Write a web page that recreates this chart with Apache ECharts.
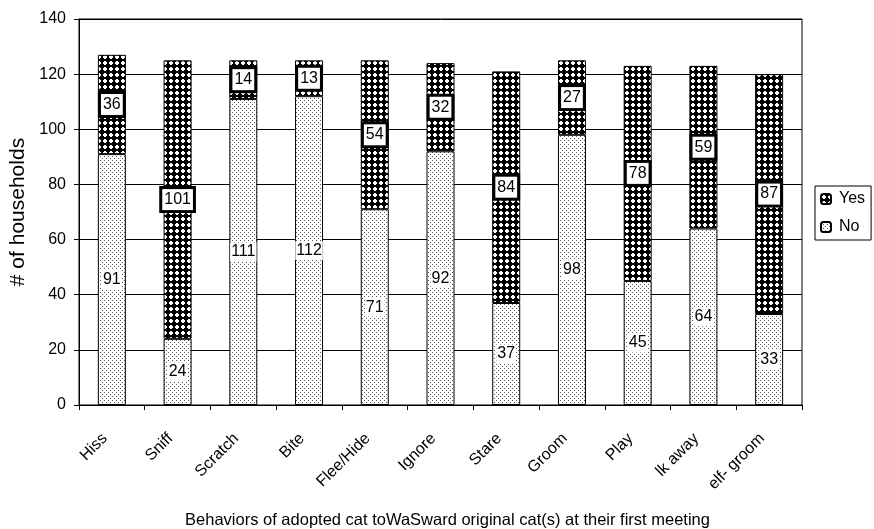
<!DOCTYPE html>
<html>
<head>
<meta charset="utf-8">
<script src="https://cdn.jsdelivr.net/npm/echarts@6/dist/echarts.min.js"></script>
<style>
  html, body { margin: 0; padding: 0; background: #fff; }
  #chart { width: 874px; height: 529px; }
</style>
</head>
<body>
<div id="chart"></div>
<script>
// Behaviours at first meeting, split by household answer
const categories = ['Hiss', 'Sniff', 'Scratch', 'Bite', 'Flee/Hide', 'Ignore', 'Stare', 'Groom', 'Play', 'lk away', 'elf- groom'];
const noValues  = [91, 24, 111, 112, 71, 92, 37, 98, 45, 64, 33];
const yesValues = [36, 101, 14, 13, 54, 32, 84, 27, 78, 59, 87];
const yTicks = { min: 0, max: 140, interval: 20 };

const FONT = '"Liberation Sans", Arial, Helvetica, sans-serif';

// Light stipple fill: sparse black dots on white
function stipple() {
  const c = document.createElement('canvas');
  c.width = 4; c.height = 4;
  const g = c.getContext('2d');
  g.fillStyle = '#fff'; g.fillRect(0, 0, 4, 4);
  g.fillStyle = '#555';
  g.fillRect(0, 0, 1, 1);
  g.fillRect(2, 2, 1, 1);
  return c;
}

// Dark fill: black ground with white diamond dots
function diamonds() {
  const c = document.createElement('canvas');
  c.width = 6; c.height = 6;
  const g = c.getContext('2d');
  g.fillStyle = '#000'; g.fillRect(0, 0, 6, 6);
  g.fillStyle = '#fff';
  g.fillRect(2, 1, 2, 4);
  g.fillRect(1, 2, 4, 2);
  return c;
}

const chart = echarts.init(document.getElementById('chart'), null, { renderer: 'canvas' });

chart.setOption({
  animation: false,
  backgroundColor: '#fff',
  textStyle: { fontFamily: FONT, color: '#000' },
  grid: {
    left: 79, right: 72, top: 19, bottom: 124,
    outerBoundsMode: 'none',
    containLabel: false,
    show: true, borderColor: '#000', borderWidth: 1
  },
  legend: {
    orient: 'vertical',
    left: 815, top: 186,
    data: ['Yes', 'No'],
    itemWidth: 10, itemHeight: 10, itemGap: 12,
    borderColor: '#000', borderWidth: 1,
    padding: [5, 6, 5, 5],
    textStyle: { fontFamily: FONT, fontSize: 16, color: '#000', padding: [0, 0, 0, 3] }
  },
  xAxis: {
    type: 'category',
    data: categories,
    boundaryGap: true,
    name: 'Behaviors of adopted cat toWaSward original cat(s) at their first meeting',
    nameLocation: 'middle',
    nameGap: 107,
    nameTextStyle: { fontFamily: FONT, fontSize: 16.5, color: '#000', padding: [0, 0, 0, 14] },
    axisLine: { lineStyle: { color: '#000', width: 1 } },
    axisTick: { show: true, alignWithLabel: false, length: 5, lineStyle: { color: '#000' } },
    axisLabel: {
      rotate: 45, margin: 24, interval: 0,
      fontFamily: FONT, fontSize: 16, color: '#000',
      padding: [0, 10, 0, 0]
    }
  },
  yAxis: {
    type: 'value',
    min: yTicks.min, max: yTicks.max, interval: yTicks.interval,
    name: '# of households',
    nameLocation: 'middle',
    nameGap: 50,
    nameTextStyle: { fontFamily: FONT, fontSize: 21, color: '#000' },
    axisLine: { show: true, lineStyle: { color: '#000', width: 1 } },
    axisTick: { show: true, length: 5, lineStyle: { color: '#000' } },
    axisLabel: { margin: 13, fontFamily: FONT, fontSize: 16, color: '#000' },
    splitLine: { show: true, lineStyle: { color: '#000', width: 1 } }
  },
  series: [
    {
      name: 'No',
      type: 'bar',
      stack: 'total',
      barWidth: 28,
      data: noValues,
      itemStyle: { color: { image: stipple(), repeat: 'repeat' }, borderColor: '#000', borderWidth: 1 },
      label: {
        show: true, position: 'inside',
        fontFamily: FONT, fontSize: 16, color: '#000',
        backgroundColor: '#fff', padding: [2, 1, 1, 1]
      }
    },
    {
      name: 'Yes',
      type: 'bar',
      stack: 'total',
      barWidth: 28,
      data: yesValues,
      itemStyle: { color: { image: diamonds(), repeat: 'repeat' }, borderColor: '#000', borderWidth: 1 },
      label: {
        show: true, position: 'inside',
        fontFamily: FONT, fontSize: 16, color: '#000',
        backgroundColor: '#fff', borderColor: '#000', borderWidth: 3,
        padding: [3, 2, 2, 2]
      }
    }
  ]
});
</script>
</body>
</html>
